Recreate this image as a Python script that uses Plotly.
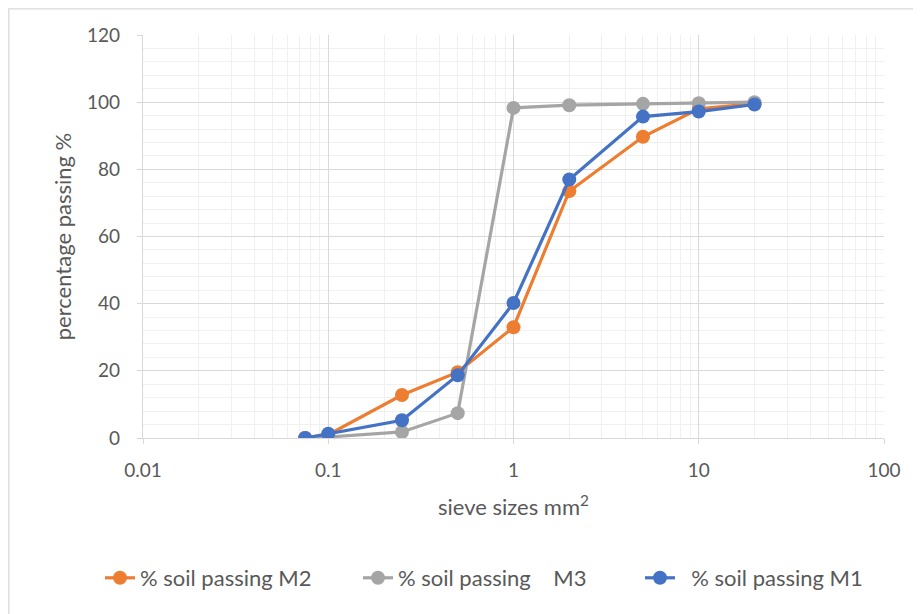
import plotly.graph_objects as go

sieve_mm = [0.075, 0.1, 0.25, 0.5, 1, 2, 5, 10, 20]
passing_m2 = [0.0, 1.0, 12.8, 19.6, 33.0, 73.5, 89.7, 98.0, 99.6]
passing_m3 = [0.0, 0.3, 1.8, 7.4, 98.3, 99.1, 99.5, 99.7, 100.0]
passing_m1 = [0.0, 1.3, 5.3, 18.7, 40.2, 77.0, 95.7, 97.2, 99.3]

series_names = ["% soil passing M2", "% soil passing\u00a0\u00a0\u00a0\u00a0M3",
                "\u00a0\u00a0% soil passing M1"]
series_colors = ["#ED7D31", "#A5A5A5", "#4472C4"]

x_tick_vals = [0.01, 0.1, 1, 10, 100]
x_tick_text = ["0.01", "0.1", "1", "10", "100"]

FONT = "Lato, 'Liberation Sans', sans-serif"
TXT = "#595959"

L, R, T, B = 135, 45, 27, 184
PW = 921 - L - R
PH = 614 - T - B

legend_ids = ["legend", "legend2", "legend3"]
legend_left_px = [92, 350, 632]

fig = go.Figure()
for name, vals, col, lid in zip(series_names, [passing_m2, passing_m3, passing_m1], series_colors, legend_ids):
    fig.add_trace(go.Scatter(
        x=sieve_mm, y=vals, name=name, mode="lines+markers",
        line=dict(color=col, width=3.2),
        marker=dict(color=col, size=14),
        legend=lid,
    ))

legend_common = dict(orientation="h", xanchor="left", yanchor="middle",
                     y=(PH - 543) / PH, font=dict(size=22, color=TXT, family=FONT),
                     bgcolor="rgba(0,0,0,0)")

layout_legends = {lid: dict(legend_common, x=(px - L) / PW) for lid, px in zip(legend_ids, legend_left_px)}

fig.update_layout(
    width=921, height=614,
    margin=dict(l=L, r=R, t=T, b=B, autoexpand=False),
    paper_bgcolor="white", plot_bgcolor="white",
    font=dict(family=FONT, color=TXT, size=19),
    showlegend=True,
    xaxis=dict(
        type="log", range=[-2, 2],
        tickvals=x_tick_vals, ticktext=x_tick_text,
        showgrid=True, gridcolor="#D9D9D9", gridwidth=1.3,
        minor=dict(dtick="D1", showgrid=True, gridcolor="#F0F0F0", gridwidth=1.3, ticks=""),
        showline=True, linecolor="#D9D9D9", linewidth=1.3,
        ticks="outside", ticklen=5, tickcolor="#D9D9D9",
        ticklabelstandoff=10,
        tickfont=dict(size=19, color=TXT),
        title=dict(text="sieve sizes mm<sup>2</sup>", font=dict(size=22, color=TXT), standoff=19),
        zeroline=False,
    ),
    yaxis=dict(
        range=[0, 120], dtick=20,
        showgrid=True, gridcolor="#D9D9D9", gridwidth=1.3,
        minor=dict(dtick=4, showgrid=True, gridcolor="#F0F0F0", gridwidth=1.3, ticks=""),
        showline=True, linecolor="#D9D9D9", linewidth=1.3,
        ticks="outside", ticklen=5, tickcolor="#D9D9D9",
        ticklabelstandoff=13,
        tickfont=dict(size=19, color=TXT),
        title=dict(text="percentage passing %", font=dict(size=22, color=TXT), standoff=9),
        zeroline=False,
    ),
    shapes=[dict(type="rect", xref="paper", yref="paper",
                 x0=(0.8 - L) / PW, x1=(960 - L) / PW,
                 y0=(PH - 660) / PH, y1=(PH + T - 0.8) / PH,
                 line=dict(color="#D9D9D9", width=1.3), fillcolor="rgba(0,0,0,0)", layer="below")],
    **layout_legends,
)

fig.write_html("out.html")
